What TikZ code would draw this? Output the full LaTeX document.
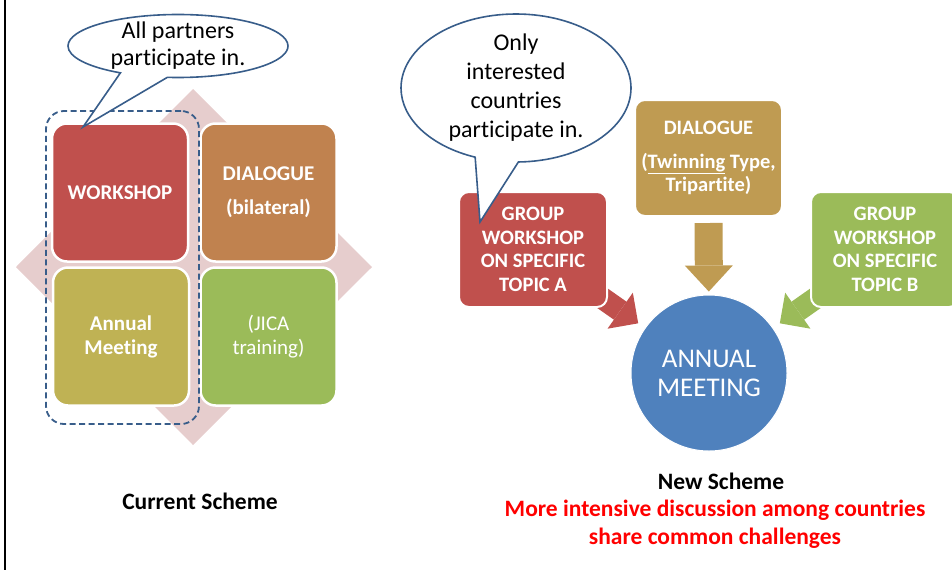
\documentclass[tikz,border=0pt]{standalone}
\usepackage{fontspec}
\setmainfont{Carlito}[Ligatures=NoCommon]
\usetikzlibrary{shapes.callouts,arrows.meta,backgrounds}

\definecolor{wsred}{HTML}{C0504D}
\definecolor{dlgorange}{HTML}{C0824F}
\definecolor{meetolive}{HTML}{BFB254}
\definecolor{jicagreen}{HTML}{9BBB59}
\definecolor{meetblue}{HTML}{4F81BD}
\definecolor{dlgtan}{HTML}{BF9B52}
\definecolor{edgeblue}{HTML}{385D8A}
\definecolor{diamondpink}{HTML}{E6CDCD}

\tikzset{
  tile/.style={draw=white, line width=2.5pt, rounded corners=15pt, minimum width=136pt, minimum height=138pt,
    text=white, align=center, font=\fontsize{21}{24}\selectfont\bfseries},
  topicbox/.style={draw=white, line width=2pt, rounded corners=10pt, minimum width=148pt, minimum height=115pt,
    text=white, align=center, font=\fontsize{20.5}{23.5}\selectfont\bfseries},
  bubble/.style={ellipse callout, draw=edgeblue, line width=1.6pt, fill=white, inner xsep=0pt, inner ysep=-3pt,
    align=center, font=\fontsize{24}{27}\selectfont},
  blockarrow/.style={line width=22pt, -{Triangle[width=44pt,length=22pt,line width=0pt]}},
  caption/.style={font=\fontsize{23.5}{28}\selectfont\bfseries, align=center}
}

\begin{document}
\begin{tikzpicture}[x=1pt,y=-1pt]
    \useasboundingbox (0,0) rectangle (952,570);
    \draw[line width=2.5pt] (5,0) -- (5,570);

    % current scheme
    \fill[diamondpink] (193,89) -- (372,267) -- (193,445) -- (16,267) -- cycle;
    \node[tile, fill=wsred] (wshop) at (120,192.5) {WORKSHOP};
    \node[tile, fill=dlgorange] (dlgA) at (268.5,192.5) {DIALOGUE\\[10pt](bilateral)};
    \node[tile, fill=meetolive] (meet) at (121,336.5) {Annual\\Meeting};
    \node[tile, fill=jicagreen, font=\fontsize{21}{24}\selectfont] (jica) at (268.5,336.5) {(JICA\\training)};
    \node[draw=edgeblue, line width=1.8pt, dash pattern=on 6pt off 3.5pt, rounded corners=18pt,
          minimum width=153pt, minimum height=313pt] (allin) at (122.5,267.5) {};
    \node[bubble, minimum width=220pt, minimum height=63pt, inner ysep=-5pt, callout absolute pointer={(83,127)},
          callout pointer arc=26] (allsay) at (178,46) {All partners\\participate in.};
    \node[caption] (curcap) at (200,501) {Current Scheme};

    % new scheme
    \node[topicbox, fill=wsred] (grpA) at (533,249.5) {GROUP\\WORKSHOP\\ON SPECIFIC\\TOPIC A};
    \node[topicbox, fill=dlgtan, minimum width=147pt, minimum height=116pt] (dlgB) at (708.5,158)
          {DIALOGUE\\[10pt](\underline{Twinning} Type,\\Tripartite)};
    \node[topicbox, fill=jicagreen] (grpB) at (885,249.5) {GROUP\\WORKSHOP\\ON SPECIFIC\\TOPIC B};
    \node[circle, fill=meetblue, draw=white, line width=1pt, minimum size=156pt, text=white, align=center,
          font=\fontsize{27}{29}\selectfont] (annual) at (709,373) {ANNUAL\\MEETING};
    \node[bubble, minimum width=230pt, minimum height=148pt, font=\fontsize{24}{29}\selectfont,
          callout absolute pointer={(480,222)}, callout pointer arc=22] (fewsay) at (516,88)
          {Only\\interested\\countries\\participate in.};

    \begin{scope}[on background layer]
        \draw[blockarrow, wsred, shorten >=8pt] (grpA.center) -- (annual);
        \draw[blockarrow, jicagreen, shorten >=8pt] (grpB.center) -- (annual);
        \draw[blockarrow, dlgtan, line width=28pt, -{Triangle[width=48pt,length=26pt,line width=0pt]},
              shorten <=6pt, shorten >=3pt] (dlgB) -- (annual);
    \end{scope}

    \node[caption] (newcap) at (721,481) {New Scheme};
    \node[caption, text=red] (gaincap) at (715,524) {More intensive discussion among countries\\share common challenges};
\end{tikzpicture}
\end{document}
